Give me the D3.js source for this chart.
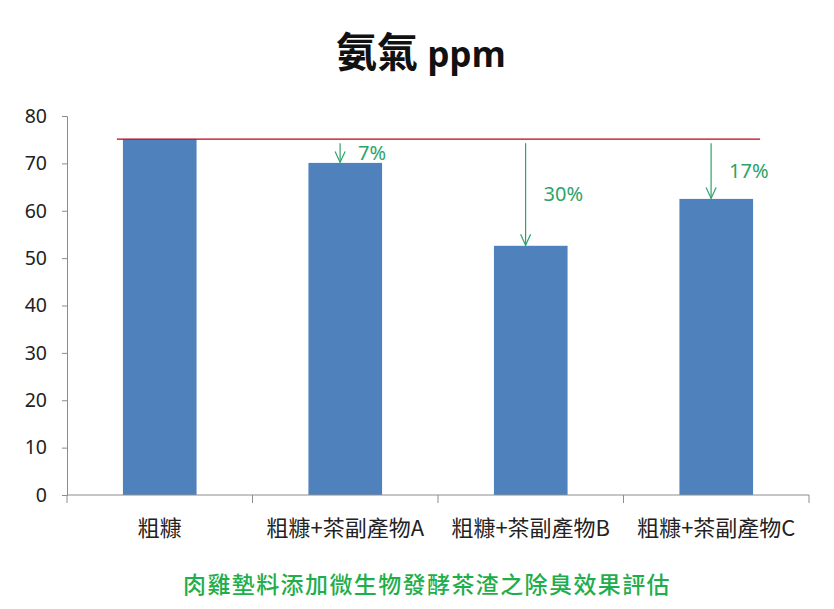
<!DOCTYPE html>
<html><head><meta charset="utf-8">
<script src="https://cdn.jsdelivr.net/npm/d3@7"></script>
<style>
html,body{margin:0;padding:0;background:#fff;}
svg{display:block;}
</style></head>
<body>
<svg id="chart" width="834" height="609"></svg>
<script>
const categories = ["粗糠", "粗糠+茶副產物A", "粗糠+茶副產物B", "粗糠+茶副產物C"];
const values = [75.1, 70.1, 52.6, 62.5];
const reductionLabels = ["", "7%", "30%", "17%"];
const yTicks = [0, 10, 20, 30, 40, 50, 60, 70, 80];
const baselineValue = 75.1;
const titleCJK = "氨氣";
const titleUnit = "ppm";
const subtitle = "肉雞墊料添加微生物發酵茶渣之除臭效果評估";

(function () {
const svg = d3.select("#chart");
const mLeft = 67, mRight = 809, mTop = 116, mBottom = 495;

const x = d3.scaleBand().domain(categories).range([mLeft, mRight]).padding(0);
const y = d3.scaleLinear().domain([0, 80]).range([mBottom, mTop]);
const bw = x.bandwidth();
const barW = bw * 0.397;
const barX = c => x(c) + (bw - barW) / 2;

// Title
const title = svg.append("text")
  .attr("x", 421).attr("y", 67)
  .attr("text-anchor", "middle")
  .attr("font-weight", "bold")
  .attr("fill", "#111");
title.append("tspan").text(titleCJK)
  .attr("font-family", "'Noto Sans CJK TC', sans-serif")
  .attr("font-size", 41);
title.append("tspan").text(" " + titleUnit)
  .attr("font-family", "'Open Sans', sans-serif")
  .attr("font-size", 35);

// Bars
svg.append("g").selectAll("rect").data(categories).join("rect")
  .attr("x", c => barX(c))
  .attr("y", (c, i) => y(values[i]))
  .attr("width", barW)
  .attr("height", (c, i) => y(0) - y(values[i]))
  .attr("fill", "#4f81bd");

// Y axis
const yAxis = svg.append("g").attr("transform", `translate(${mLeft},0)`)
  .call(d3.axisLeft(y).tickValues(yTicks).tickSize(5).tickPadding(15));
yAxis.select(".domain").attr("stroke", "#8c8c8c");
yAxis.selectAll(".tick line").attr("stroke", "#8c8c8c");
yAxis.selectAll(".tick text")
  .attr("font-family", "'Noto Sans', sans-serif")
  .attr("font-size", 19.5)
  .attr("fill", "#222");

// X axis (ticks at band boundaries)
const xg = svg.append("g");
xg.append("line").attr("x1", mLeft).attr("x2", mRight)
  .attr("y1", y(0)).attr("y2", y(0)).attr("stroke", "#8c8c8c");
const bounds = categories.map(c => x(c)).concat([x(categories[categories.length - 1]) + bw]);
xg.selectAll("line.tk").data(bounds).join("line").attr("class", "tk")
  .attr("x1", d => d).attr("x2", d => d)
  .attr("y1", y(0)).attr("y2", y(0) + 8)
  .attr("stroke", "#8c8c8c");
xg.selectAll("text").data(categories).join("text")
  .attr("x", c => x(c) + bw / 2)
  .attr("y", 536)
  .attr("text-anchor", "middle")
  .attr("font-family", "'Noto Sans CJK TC', sans-serif")
  .attr("font-size", 22)
  .attr("fill", "#222")
  .text(c => c);

// Red reference line at baseline value
svg.append("line")
  .attr("x1", barX(categories[0]) - 6)
  .attr("x2", barX(categories[categories.length - 1]) + barW + 7)
  .attr("y1", y(baselineValue)).attr("y2", y(baselineValue))
  .attr("stroke", "#c0001a").attr("stroke-width", 1.2);

// Arrows and reduction labels
const green = "#2da36a";
const ag = svg.append("g");
categories.forEach((c, i) => {
  if (!reductionLabels[i]) return;
  const ax = barX(c) + barW * 0.43;
  const y1 = y(baselineValue) + 4;
  const y2 = y(values[i]) - 0.5;
  ag.append("line").attr("x1", ax).attr("x2", ax).attr("y1", y1).attr("y2", y2)
    .attr("stroke", green).attr("stroke-width", 1.2);
  ag.append("path")
    .attr("d", `M${ax - 5},${y2 - 11} L${ax},${y2} L${ax + 5},${y2 - 11}`)
    .attr("fill", "none").attr("stroke", green).attr("stroke-width", 1.2);
  ag.append("text")
    .attr("x", ax + 18)
    .attr("y", (y1 + y2) / 2 + 7)
    .attr("font-family", "'Noto Sans', sans-serif")
    .attr("font-size", 20)
    .attr("fill", green)
    .text(reductionLabels[i]);
});

// Subtitle
svg.append("text")
  .attr("x", 427).attr("y", 593)
  .attr("text-anchor", "middle")
  .attr("font-family", "'Noto Sans CJK TC', sans-serif")
  .attr("font-size", 23)
  .attr("font-weight", 500)
  .attr("letter-spacing", 1.4)
  .attr("fill", "#1fae4c")
  .text(subtitle);
})();
</script>
</body></html>
